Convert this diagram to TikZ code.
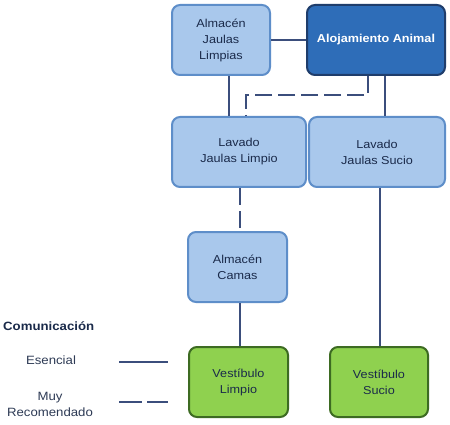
\documentclass[tikz,border=0pt]{standalone}
\usepackage{fontspec}
\setmainfont[FakeStretch=1.1]{Liberation Sans}
\definecolor{lbfill}{HTML}{A9C8EC}
\definecolor{lbdraw}{HTML}{5E8EC9}
\definecolor{dbfill}{HTML}{2E6DB8}
\definecolor{dbdraw}{HTML}{1F3D6B}
\definecolor{gfill}{HTML}{8FD14F}
\definecolor{gdraw}{HTML}{3D6B22}
\definecolor{conn}{HTML}{3B4E7C}
\definecolor{txt}{HTML}{1A2A4A}
\begin{document}
\begin{tikzpicture}[x=1pt,y=-1pt,
  box/.style={rounded corners=8pt,line width=2pt,align=center,inner sep=0pt,
    font=\fontsize{11.5}{16}\selectfont,text=txt},
  lbox/.style={box,fill=lbfill,draw=lbdraw},
  dbox/.style={box,fill=dbfill,draw=dbdraw,text=white,font=\fontsize{11.5}{16}\selectfont\bfseries},
  gbox/.style={box,fill=gfill,draw=gdraw},
  link/.style={draw=conn,line width=1.8pt},
  dlink/.style={link,dash pattern=on 17pt off 6pt},
  legtext/.style={font=\fontsize{12}{16}\selectfont,text=txt!80!gray,align=center}]
\useasboundingbox (0,0) rectangle (450,425);
\fill[white] (0,0) rectangle (450,425);
% nodes
\node[lbox,minimum width=98pt,minimum height=70pt] (ajl) at (221,40) {Almacén\\Jaulas\\Limpias};
\node[dbox,minimum width=138pt,minimum height=70pt] (aa) at (376,40) {Alojamiento Animal};
\node[lbox,minimum width=134pt,minimum height=70pt] (ljl) at (239,152) {Lavado\\Jaulas Limpio};
\node[lbox,minimum width=136pt,minimum height=70pt] (ljs) at (377,152) {Lavado\\Jaulas Sucio};
\node[lbox,minimum width=99pt,minimum height=70pt] (ac) at (237.5,267) {Almacén\\Camas};
\node[gbox,minimum width=99pt,minimum height=70pt] (vl) at (238.5,382) {Vestíbulo\\Limpio};
\node[gbox,minimum width=98pt,minimum height=70pt] (vs) at (379,382) {Vestíbulo\\Sucio};
% connectors
\draw[link] (ajl.east) -- (aa.west);
\draw[link] (ajl.south -| 229,0) -- (ljl.north -| 229,0);
\draw[link] (aa.south -| 385,0) -- (ljs.north -| 385,0);
\draw[dlink] (aa.south -| 368,0) -- (368,95) -- (246,95) -- (ljl.north -| 246,0);
\draw[dlink] (ljl.south -| 240,0) -- (ac.north -| 240,0);
\draw[link] (ac.south -| 240,0) -- (vl.north -| 240,0);
\draw[link] (ljs.south -| 380,0) -- (vs.north -| 380,0);
% legend
\node[font=\fontsize{12}{16}\selectfont\bfseries,text=txt,anchor=west,inner sep=0pt] (leg) at (3,326) {Comunicación};
\node[legtext] (ese) at (51,360) {Esencial};
\node[legtext] (muy) at (50,404) {Muy\\Recomendado};
\coordinate (e1) at (119,362);
\coordinate (e2) at (168,362);
\coordinate (m1) at (119,402);
\coordinate (m2) at (168,402);
\draw[link] (e1) -- (e2);
\draw[link,dash pattern=on 23pt off 5pt] (m1) -- (m2);
\end{tikzpicture}
\end{document}
